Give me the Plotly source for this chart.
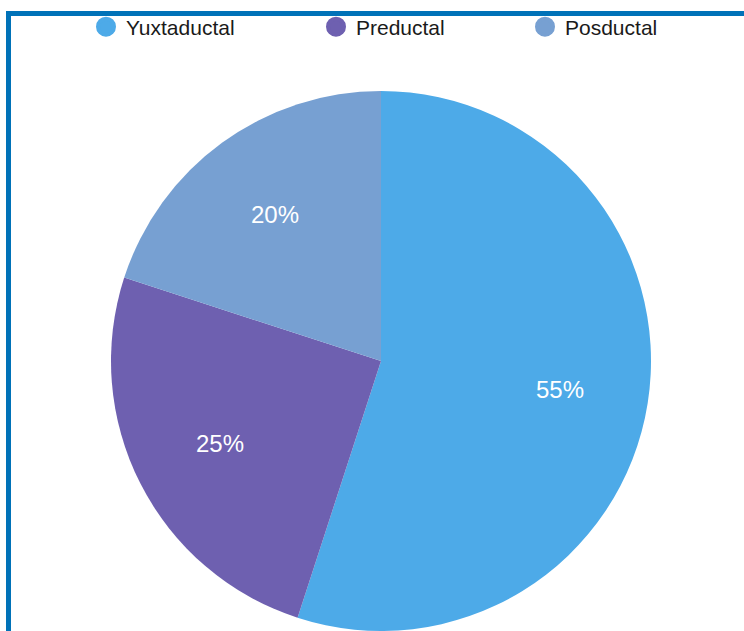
import math
import plotly.graph_objects as go

labels = ["Yuxtaductal", "Preductal", "Posductal"]
values = [55, 25, 20]
colors = ["#4DAAE8", "#6E60B0", "#77A0D2"]

W, H = 744, 631
cx, r = 381, 270
top = 91
FONT = "Liberation Sans, Arial, Helvetica, sans-serif"

dom_x = [(cx - r) / W, (cx + r) / W]
dom_y = [0, 1 - top / H]

fig = go.Figure()
fig.add_trace(go.Pie(
    labels=labels, values=values, sort=False, direction="clockwise", rotation=0,
    marker=dict(colors=colors, line=dict(width=0)),
    textinfo="none", showlegend=False, hoverinfo="label+percent",
    domain=dict(x=dom_x, y=dom_y),
))

# percentage labels placed along each slice's mid-angle (computed from values)
total = sum(values)
cy_px = top + r
acc = 0
annotations = []
for v in values:
    mid = (acc + v / 2) / total * 2 * math.pi
    acc += v
    rr = 0.67 * r
    px = cx + rr * math.sin(mid)
    py = cy_px - rr * math.cos(mid)
    annotations.append(dict(x=px / W, y=1 - py / H, xref="paper", yref="paper",
                            xanchor="center", yanchor="middle",
                            text=f"{round(v / total * 100)}%", showarrow=False,
                            font=dict(color="white", size=24, family=FONT)))

legend_x = [86, 316, 525]
for i, (lab, col) in enumerate(zip(labels, colors)):
    lg = "legend" if i == 0 else f"legend{i + 1}"
    fig.add_trace(go.Scatter(x=[None], y=[None], mode="markers", name=lab, legend=lg,
                             marker=dict(color=col, size=16, symbol="circle",
                                         line=dict(color=col, width=4)),
                             showlegend=True))

def legend_cfg(xpx):
    return dict(orientation="h", x=xpx / W, xanchor="left", y=1 - 27 / H, yanchor="middle",
                font=dict(size=21, family=FONT, color="#1a1a1a"),
                bgcolor="rgba(0,0,0,0)", borderwidth=0)

fig.update_layout(
    width=W, height=H,
    margin=dict(l=0, r=0, t=0, b=0),
    paper_bgcolor="white", plot_bgcolor="white",
    xaxis=dict(visible=False), yaxis=dict(visible=False),
    legend=legend_cfg(legend_x[0]),
    legend2=legend_cfg(legend_x[1]),
    legend3=legend_cfg(legend_x[2]),
    annotations=annotations,
    shapes=[dict(type="rect", xref="paper", yref="paper",
                 x0=8.5 / W, x1=1.2, y0=-0.2, y1=1 - 13.5 / H,
                 line=dict(color="#0072B8", width=5), layer="above")],
)
fig.write_html("out.html", config={"displayModeBar": False},
               post_script="document.body.style.margin='0';")
